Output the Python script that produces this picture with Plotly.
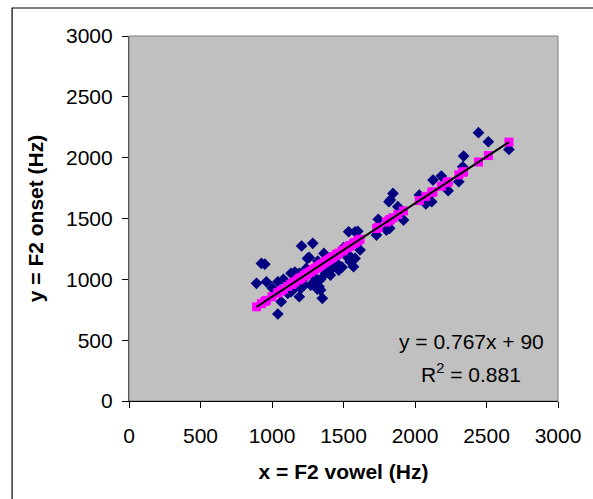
import plotly.graph_objects as go

# Observed data: F2 vowel (x) vs F2 onset (y), Hz
f2_vowel = [892, 961, 926, 950, 1041, 1064, 1041, 1110, 1133, 1133, 1145, 1191, 1191, 1202,
            1207, 1225, 1225, 1248, 1260, 1271, 1285, 1294, 1294, 1306, 1317, 1329, 1340, 1352,
            1363, 1375, 1386, 1398, 1409, 1420, 1432, 1455, 1467, 1490, 1524, 1536, 1547, 1547,
            1570, 1581, 1581, 1600, 1616, 1731, 1743, 1800, 1823, 1828, 1846, 1880, 1920, 2030,
            2076, 2117, 2126, 2184, 2232, 2306, 2334, 2340, 2444, 2513, 2657,
            1080, 1160, 1240, 1320, 1450, 1500, 1180, 1340, 1000, 1818, 2225]
f2_onset = [967, 980, 1131, 1125, 980, 816, 715, 885, 898, 1049, 912, 857, 1049, 926,
            1274, 1008, 953, 1172, 1180, 953, 1296, 1021, 966, 994, 920, 939, 912, 844,
            1213, 1049, 1060, 1076, 1035, 1090, 1104, 1131, 1076, 1100, 1186, 1391, 1145, 1186,
            1104, 1172, 1391, 1395, 1241, 1364, 1493, 1405, 1419, 1652, 1706, 1597, 1487, 1693,
            1619, 1638, 1816, 1849, 1728, 1802, 1925, 2013, 2205, 2131, 2068,
            1000, 1060, 1090, 1150, 1200, 1260, 1000, 1000, 930, 1638, 1789]

# Linear trendline coefficients shown on chart
SLOPE = 0.767
INTERCEPT = 90
eq_text = "y = 0.767x + 90"
r2_text = "R<sup>2</sup> = 0.881"

predicted = [SLOPE * v + INTERCEPT for v in f2_vowel]
line_x = [min(f2_vowel), max(f2_vowel)]
line_y = [SLOPE * v + INTERCEPT for v in line_x]

axis_ticks = [0, 500, 1000, 1500, 2000, 2500, 3000]

fig = go.Figure()
fig.add_trace(go.Scatter(x=f2_vowel, y=f2_onset, mode="markers",
                         marker=dict(symbol="diamond", size=9, color="#000080"),
                         showlegend=False, cliponaxis=False))
fig.add_trace(go.Scatter(x=f2_vowel, y=predicted, mode="markers",
                         marker=dict(symbol="square", size=9, color="#FF00FF"),
                         showlegend=False))
fig.add_trace(go.Scatter(x=line_x, y=line_y, mode="lines",
                         line=dict(color="black", width=2), showlegend=False))

FONT = "Liberation Sans, Arial, sans-serif"

fig.add_annotation(x=2393, y=485, xref="x", yref="y", text=eq_text, showarrow=False,
                   font=dict(family=FONT, size=21, color="black"))
fig.add_annotation(x=2393, y=230, xref="x", yref="y", text=r2_text, showarrow=False,
                   font=dict(family=FONT, size=21, color="black"))

# Plot-area border (gray) and outer chart frame (black)
fig.add_shape(type="rect", xref="paper", yref="paper", x0=0, x1=1, y0=0, y1=1,
              line=dict(color="#808080", width=1), layer="below")
fig.add_shape(type="rect", xref="paper", yref="paper", x0=-0.2725, x1=1.2, y0=-0.4, y1=1.0767,
              line=dict(color="black", width=1.2), layer="below")

fig.update_layout(
    width=593, height=499,
    margin=dict(l=129, r=31, t=36, b=98),
    paper_bgcolor="white",
    plot_bgcolor="#C0C0C0",
    font=dict(family=FONT, size=21, color="black"),
    xaxis=dict(range=[0, 3000], tickvals=axis_ticks, showgrid=False, zeroline=False,
               showline=True, linecolor="black", linewidth=1.2,
               ticks="outside", ticklen=6, tickcolor="black", ticklabelstandoff=10,
               title=dict(text="<b>x = F2 vowel (Hz)</b>", font=dict(size=21), standoff=18)),
    yaxis=dict(range=[0, 3000], tickvals=axis_ticks, showgrid=False, zeroline=False,
               showline=True, linecolor="#555555", linewidth=1.2,
               ticks="outside", ticklen=6, tickcolor="black", ticklabelstandoff=5,
               title=dict(text="<b>y = F2 onset (Hz)</b>", font=dict(size=21), standoff=16)),
)

fig.write_html("out.html", config={"displayModeBar": False},
               post_script="document.body.style.margin='0';document.body.style.overflow='hidden';")
